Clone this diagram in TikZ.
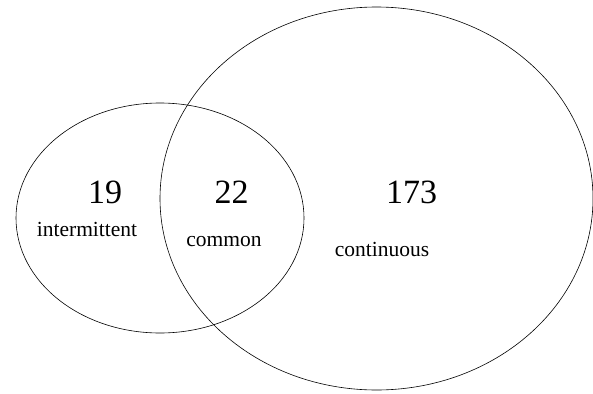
\documentclass[tikz,border=0pt]{standalone}
\usepackage{fontspec}
\setmainfont{Liberation Serif}
\usetikzlibrary{shapes.geometric}

\begin{document}
\begin{tikzpicture}[x=1pt, y=-1pt,
    every node/.style={inner sep=0pt},
    set/.style={draw, ellipse, line width=0.6pt},
    count/.style={anchor=base, font=\fontsize{34}{40}\selectfont},
    tag/.style={anchor=base, font=\fontsize{21.5}{26}\selectfont}]

    \useasboundingbox (0,0) rectangle (593,393);

    % the two sets
    \node[set, minimum width=288pt, minimum height=230pt] (intermittentset) at (160,218) {};
    \node[set, minimum width=433pt, minimum height=383pt] (continuousset) at (376.5,198.5) {};

    % counts and names
    \node[count] (nintermittent) at (105,203) {19};
    \node[tag] (intermittent) at (87,236) {intermittent};
    \node[count] (ncommon) at (231.5,203) {22};
    \node[tag] (common) at (224,246) {common};
    \node[count] (ncontinuous) at (411.5,203) {173};
    \node[tag] (continuous) at (382,256) {continuous};
\end{tikzpicture}
\end{document}
